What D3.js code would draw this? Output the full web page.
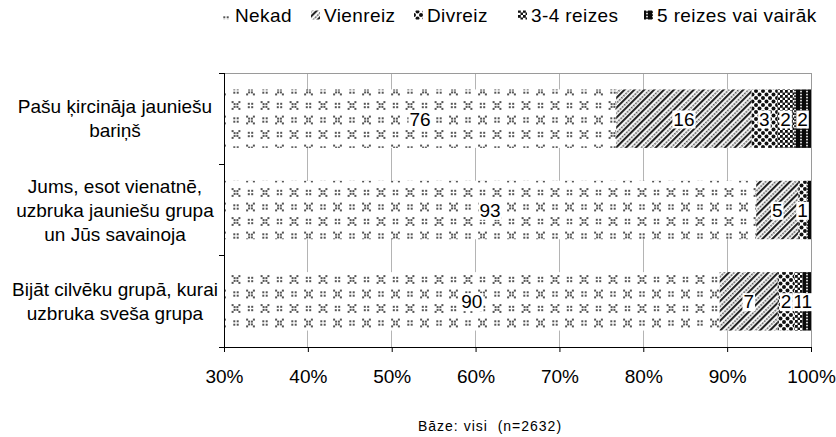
<!DOCTYPE html>
<html>
<head>
<meta charset="utf-8">
<script src="https://cdn.jsdelivr.net/npm/d3@7/dist/d3.min.js"></script>
<style>
  html, body { margin: 0; padding: 0; background: #fff; }
  svg { display: block; font-family: "Liberation Sans", Arial, sans-serif; }
</style>
</head>
<body>
<svg id="chart" width="836" height="437"></svg>
<script>
// ---- data ----
const categories = ["Pašu ķircināja jauniešu bariņš",
                    "Jums, esot vienatnē, uzbruka jauniešu grupa un Jūs savainoja",
                    "Bijāt cilvēku grupā, kurai uzbruka sveša grupa"];
const categoryLines = [["Pašu ķircināja jauniešu", "bariņš"],
                       ["Jums, esot vienatnē,", "uzbruka jauniešu grupa", "un Jūs savainoja"],
                       ["Bijāt cilvēku grupā, kurai", "uzbruka sveša grupa"]];
const seriesNames = ["Nekad", "Vienreiz", "Divreiz", "3-4 reizes", "5 reizes vai vairāk"];
const nekad    = [76, 93, 90];
const vienreiz = [16, 5, 7];
const divreiz  = [3, 1, 2];
const reizes34 = [2, 0, 1];
const reizes5  = [2, 0.5, 1];
const tickValues = [0.3, 0.4, 0.5, 0.6, 0.7, 0.8, 0.9, 1.0];
const tickLabels = ["30%", "40%", "50%", "60%", "70%", "80%", "90%", "100%"];
const caption = "Bāze: visi  (n=2632)";

const seriesValues = [nekad, vienreiz, divreiz, reizes34, reizes5];
const rows = categories.map((c, i) => {
  const r = { cat: c };
  seriesNames.forEach((s, j) => r[s] = seriesValues[j][i]);
  return r;
});

const svg = d3.select("#chart");
const W = 836, H = 437;
const margin = { left: 224, right: W - 811, top: 73, bottom: H - 347 };
const x = d3.scaleLinear().domain([0.3, 1.0]).range([margin.left, W - margin.right]);
const y = d3.scaleBand().domain(categories).range([margin.top, H - margin.bottom])
  .paddingInner(0.36).paddingOuter(0.18);

// ---- patterns ----
const defs = svg.append("defs");
const patIds = ["pNekad", "pVienreiz", "pDivreiz", "p34", "p5"];

// Nekad: sparse grey dot motifs
(function () {
  const p = defs.append("pattern").attr("id", patIds[0]).attr("patternUnits", "userSpaceOnUse")
    .attr("width", 29).attr("height", 29);
  p.append("rect").attr("width", 29).attr("height", 29).attr("fill", "#fff");
  const g = p.append("g").attr("fill", "#555");
  const dot = (px, py) => g.append("rect").attr("x", px - 1).attr("y", py - 1).attr("width", 2).attr("height", 2);
  const colon = (cx, cy) => [[-1.7, -1.7], [1.7, -1.7], [-1.7, 1.7], [1.7, 1.7]].forEach(d => dot(cx + d[0], cy + d[1]));
  const cross = (cx, cy) => [[-3.4, -3.4], [3.4, -3.4], [-1.4, -1.4], [1.4, -1.4], [-1.4, 1.4], [1.4, 1.4], [-3.4, 3.4], [3.4, 3.4]]
    .forEach(d => dot(cx + d[0], cy + d[1]));
  colon(4, 4); cross(18.5, 4);
  cross(4, 18.5); colon(18.5, 18.5);
  cross(33, 18.5); cross(-25, 18.5); cross(18.5, 33); cross(18.5, -25);
})();

// Vienreiz: diagonal hatching
(function () {
  const p = defs.append("pattern").attr("id", patIds[1]).attr("patternUnits", "userSpaceOnUse")
    .attr("width", 7).attr("height", 6).attr("patternTransform", "rotate(45)");
  p.append("rect").attr("width", 7).attr("height", 6).attr("fill", "#fff");
  p.append("rect").attr("x", 0).attr("y", 0).attr("width", 2.1).attr("height", 6).attr("fill", "#222");
  p.append("rect").attr("x", 4.1).attr("y", 0.5).attr("width", 1.5).attr("height", 1.8).attr("fill", "#444");
  p.append("rect").attr("x", 4.1).attr("y", 3.5).attr("width", 1.5).attr("height", 1.8).attr("fill", "#444");
})();

// Divreiz: large dot lattice
(function () {
  const p = defs.append("pattern").attr("id", patIds[2]).attr("patternUnits", "userSpaceOnUse")
    .attr("width", 7).attr("height", 7);
  p.append("rect").attr("width", 7).attr("height", 7).attr("fill", "#fff");
  const g = p.append("g").attr("fill", "#111");
  [[0, 0], [7, 0], [0, 7], [7, 7], [3.5, 3.5]].forEach(d =>
    g.append("circle").attr("cx", d[0]).attr("cy", d[1]).attr("r", 2));
})();

// 3-4 reizes: dense checks
(function () {
  const p = defs.append("pattern").attr("id", patIds[3]).attr("patternUnits", "userSpaceOnUse")
    .attr("width", 5).attr("height", 5);
  p.append("rect").attr("width", 5).attr("height", 5).attr("fill", "#fff");
  const g = p.append("g").attr("fill", "#111");
  g.append("rect").attr("x", 0).attr("y", 0).attr("width", 2.8).attr("height", 2.8);
  g.append("rect").attr("x", 2.5).attr("y", 2.5).attr("width", 2.8).attr("height", 2.8);
})();

// 5+ reizes: black with white dotted columns
(function () {
  const p = defs.append("pattern").attr("id", patIds[4]).attr("patternUnits", "userSpaceOnUse")
    .attr("width", 6).attr("height", 6);
  p.append("rect").attr("width", 6).attr("height", 6).attr("fill", "#0a0a0a");
  const g = p.append("g").attr("fill", "#fff");
  g.append("rect").attr("x", 2.2).attr("y", 0.8).attr("width", 1.6).attr("height", 1.6);
  g.append("rect").attr("x", 2.2).attr("y", 3.8).attr("width", 1.6).attr("height", 1.6);
})();

const color = d3.scaleOrdinal().domain(seriesNames).range(patIds.map(id => `url(#${id})`));

// ---- clip ----
defs.append("clipPath").attr("id", "plotClip").append("rect")
  .attr("x", x(0.3)).attr("y", margin.top).attr("width", x(1) - x(0.3)).attr("height", H - margin.bottom - margin.top);

// ---- gridlines ----
svg.append("g").selectAll("line").data(tickValues.slice(1)).join("line")
  .attr("x1", d => x(d)).attr("x2", d => x(d))
  .attr("y1", margin.top).attr("y2", H - margin.bottom)
  .attr("stroke", "#b4b4b4").attr("stroke-width", 1).attr("shape-rendering", "crispEdges");
svg.append("line").attr("x1", x(0.3)).attr("x2", x(1)).attr("y1", margin.top + 0.5).attr("y2", margin.top + 0.5)
  .attr("stroke", "#9a9a9a").attr("shape-rendering", "crispEdges");

// ---- bars ----
const stack = d3.stack().keys(seriesNames).offset(d3.stackOffsetExpand);
const stacked = stack(rows);

const barG = svg.append("g").attr("clip-path", "url(#plotClip)");
barG.selectAll("g").data(stacked).join("g")
  .attr("fill", d => color(d.key))
  .selectAll("rect").data(d => d).join("rect")
  .attr("x", d => x(d[0]))
  .attr("y", d => y(d.data.cat))
  .attr("width", d => Math.max(0, x(d[1]) - x(d[0])))
  .attr("height", y.bandwidth());

// ---- axes ----
const xAxis = d3.axisBottom(x).tickValues(tickValues).tickFormat((d, i) => tickLabels[i])
  .tickSize(5).tickPadding(18);
const gx = svg.append("g").attr("transform", `translate(0,${H - margin.bottom})`).call(xAxis);
gx.select(".domain").attr("stroke", "#000").attr("d", `M${x(0.3) - 5},0.5H${x(1)}`);
gx.selectAll(".tick line").attr("stroke", "#000");
gx.selectAll("text").attr("font-size", 19).attr("fill", "#000")
  .attr("font-family", "Liberation Sans, Arial, sans-serif");

const yAxis = d3.axisLeft(y).tickSize(0).tickFormat("");
const gy = svg.append("g").attr("transform", `translate(${x(0.3)},0)`).call(yAxis);
gy.select(".domain").attr("stroke", "#000").attr("d", `M0.5,${margin.top}V${H - margin.bottom}`);
const bounds = [margin.top, ...categories.slice(1).map(c => y(c) - y.step() * y.paddingInner() / 2), H - margin.bottom];
svg.append("g").selectAll("line").data(bounds).join("line")
  .attr("x1", x(0.3) - 5).attr("x2", x(0.3)).attr("y1", d => d).attr("y2", d => d)
  .attr("stroke", "#000").attr("shape-rendering", "crispEdges");
svg.append("line").attr("x1", x(1) + 0.5).attr("x2", x(1) + 0.5).attr("y1", margin.top).attr("y2", H - margin.bottom)
  .attr("stroke", "#9a9a9a").attr("shape-rendering", "crispEdges");

// ---- category labels ----
const catG = svg.append("g");
categories.forEach((c, i) => {
  const lines = categoryLines[i];
  const lh = 24;
  const cy = y(c) + y.bandwidth() / 2;
  const t = catG.append("text").attr("text-anchor", "middle").attr("font-size", 19).attr("fill", "#000");
  lines.forEach((ln, k) => {
    t.append("tspan").attr("x", 115)
      .attr("y", cy + (k - (lines.length - 1) / 2) * lh).attr("dy", "0.35em").text(ln);
  });
});

// ---- value labels (centred on the visible part of each segment) ----
const labG = svg.append("g");
const [d0, d1] = x.domain();
stacked.forEach((s, j) => {
  s.forEach((d, i) => {
    const v = seriesValues[j][i];
    if (v < 1) return;
    const a = Math.max(d[0], d0), b = Math.min(d[1], d1);
    const cx = x((a + b) / 2);
    const cy = y(d.data.cat) + y.bandwidth() / 2;
    const g = labG.append("g");
    const t = g.append("text").attr("x", cx).attr("y", cy).attr("dy", "0.36em")
      .attr("text-anchor", "middle").attr("font-size", 19).attr("fill", "#000").text(v);
    const bb = t.node().getBBox();
    g.insert("rect", "text").attr("x", bb.x - 1).attr("y", bb.y + 2).attr("width", bb.width + 2)
      .attr("height", bb.height - 3).attr("fill", "#fff");
  });
});

// ---- legend ----
const legendX = [222, 311, 414, 518, 644];
const leg = svg.append("g").attr("transform", "translate(0,15)");
seriesNames.forEach((s, j) => {
  const g = leg.append("g").attr("transform", `translate(${legendX[j]},0)`);
  g.append("rect").attr("x", 0).attr("y", -4.5).attr("width", 9).attr("height", 9).attr("fill", color(s));
  g.append("text").attr("x", 13).attr("y", 0).attr("dy", "0.35em")
    .attr("font-size", 19).attr("letter-spacing", 0.4).attr("fill", "#000").text(s);
});

// ---- caption ----
svg.append("text").attr("x", 490).attr("y", 431).attr("text-anchor", "middle")
  .attr("font-size", 14).attr("letter-spacing", 1).attr("fill", "#000")
  .style("white-space", "pre").text(caption);
</script>
</body>
</html>
